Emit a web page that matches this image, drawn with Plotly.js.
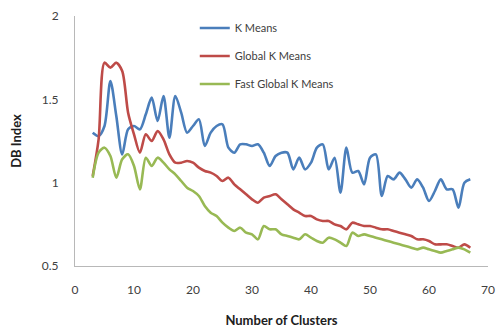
<!DOCTYPE html>
<html><head><meta charset="utf-8">
<script src="https://cdn.plot.ly/plotly-3.0.1.min.js"></script>
<style>html,body{margin:0;padding:0;background:#fff}#c{width:497px;height:331px}</style>
</head><body><div id="c"></div>
<script>
const clusters = [3,4,5,6,7,8,9,10,11,12,13,14,15,16,17,18,19,20,21,22,23,24,25,26,27,28,29,30,31,32,33,34,35,36,37,38,39,40,41,42,43,44,45,46,47,48,49,50,51,52,53,54,55,56,57,58,59,60,61,62,63,64,65,66,67];
const kMeans = [1.30,1.28,1.34,1.61,1.40,1.17,1.32,1.34,1.32,1.41,1.51,1.37,1.52,1.27,1.52,1.42,1.30,1.34,1.38,1.22,1.30,1.34,1.35,1.21,1.18,1.23,1.23,1.22,1.23,1.18,1.10,1.16,1.18,1.18,1.08,1.15,1.08,1.12,1.21,1.23,1.08,1.15,0.94,1.21,1.06,1.07,0.99,1.15,1.17,0.92,1.04,1.02,1.06,1.02,0.97,1.02,0.97,0.89,0.95,1.02,0.96,0.96,0.85,1.00,1.02];
const globalKMeans = [1.04,1.26,1.72,1.69,1.72,1.67,1.42,1.29,1.18,1.29,1.25,1.31,1.26,1.17,1.12,1.12,1.13,1.12,1.09,1.07,1.06,1.04,1.01,1.03,0.99,0.96,0.93,0.90,0.88,0.91,0.92,0.93,0.90,0.87,0.84,0.82,0.80,0.80,0.78,0.77,0.77,0.75,0.74,0.72,0.76,0.75,0.74,0.74,0.73,0.72,0.72,0.71,0.70,0.69,0.68,0.66,0.66,0.65,0.63,0.63,0.63,0.62,0.61,0.63,0.61];
const fastGlobalKMeans = [1.03,1.18,1.21,1.16,1.03,1.14,1.17,1.10,0.96,1.15,1.10,1.15,1.12,1.08,1.05,1.01,0.97,0.95,0.92,0.86,0.82,0.80,0.76,0.73,0.71,0.73,0.70,0.69,0.66,0.74,0.72,0.72,0.69,0.68,0.67,0.66,0.69,0.67,0.65,0.64,0.67,0.66,0.64,0.62,0.70,0.68,0.69,0.68,0.67,0.66,0.65,0.64,0.63,0.62,0.61,0.60,0.61,0.60,0.59,0.58,0.59,0.60,0.61,0.60,0.58];
const names = ["K Means","Global K Means","Fast Global K Means"];
const colors = ["#4a7ebb","#be4b48","#98b954"];
const series = [kMeans, globalKMeans, fastGlobalKMeans];
const data = series.map((s,i)=>({
  x: clusters, y: s, type:'scatter', mode:'lines', name:names[i], legendgroup:'g'+i,
  line:{color:colors[i], width:2.6, shape:'spline', smoothing:0.8}
}));
const font = "Lato, 'Open Sans', sans-serif";
const layout = {
  width:497, height:331,
  margin:{l:75, r:9, t:16, b:65},
  paper_bgcolor:'#fff', plot_bgcolor:'#fff',
  font:{family:font, size:12, color:'#404040'},
  showlegend:true,
  legend:{x:0.29, y:1.01, xanchor:'left', yanchor:'top', bgcolor:'rgba(0,0,0,0)', tracegroupgap:9, font:{size:11, color:'#404040'}},
  xaxis:{range:[0,70], tick0:0, dtick:10, showgrid:false, zeroline:false, showline:true, linecolor:'#b8b8b8', linewidth:1, ticks:'', ticklabelstandoff:13, tickfont:{size:12}, title:{text:'Number of Clusters', font:{size:13, color:'#202020', weight:'bold'}, standoff:19}},
  yaxis:{range:[0.5,2], tick0:0.5, dtick:0.5, showgrid:false, zeroline:false, showline:true, linecolor:'#b8b8b8', linewidth:1, ticks:'', ticklabelstandoff:13, tickfont:{size:12}, title:{text:'DB Index', font:{size:13, color:'#202020', weight:'bold'}, standoff:17}}
};
Plotly.newPlot('c', data, layout, {displayModeBar:false, staticPlot:true});
</script></body></html>
